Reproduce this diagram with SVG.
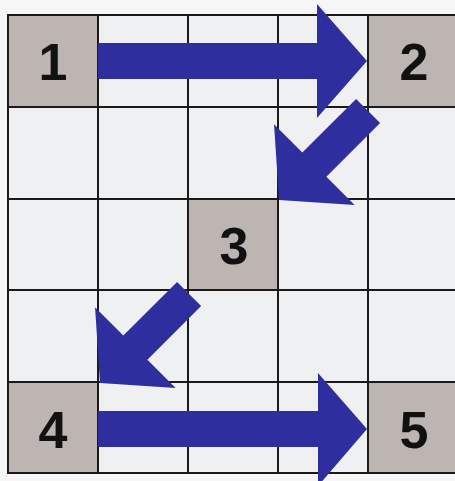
<svg xmlns="http://www.w3.org/2000/svg" width="455" height="481" viewBox="0 0 455 481">
  <style>
    .cell { fill: #eef0f2; }
    .hl { fill: #bcb5b1; }
    .grid { stroke: #1a1a1a; stroke-width: 2; fill: none; }
    .arrow { fill: #2e2e9e; }
    .lbl { font-family: "Liberation Sans", Arial, sans-serif; font-weight: bold; font-size: 52px; fill: #111; text-anchor: middle; }
  </style>
  <defs>
    <polygon id="diag" points="0,0 -50,-57 -50,-17 -126,-17 -126,17 -50,17 -50,57"/>
  </defs>
  <rect x="0" y="0" width="455" height="481" fill="#f6f6f6"/>
  <rect class="cell" x="8" y="15" width="460" height="458"/>
  <g id="node1"><rect class="hl" x="8" y="15" width="90" height="92"/><text class="lbl" x="53" y="80">1</text></g>
  <g id="node2"><rect class="hl" x="368" y="15" width="90" height="92"/><text class="lbl" x="414" y="80">2</text></g>
  <g id="node3"><rect class="hl" x="188" y="199" width="90" height="91"/><text class="lbl" x="234" y="264">3</text></g>
  <g id="node4"><rect class="hl" x="8" y="382" width="90" height="91"/><text class="lbl" x="53" y="448">4</text></g>
  <g id="node5"><rect class="hl" x="368" y="382" width="90" height="91"/><text class="lbl" x="414" y="448">5</text></g>
  <g id="gridlines" class="grid">
    <rect x="8" y="15" width="460" height="458"/>
    <path d="M98 15V473M188 15V473M278 15V473M368 15V473M8 107H468M8 199H468M8 290H468M8 382H468"/>
  </g>
  <g id="connectors" class="arrow">
    <polygon points="98,43 317,43 317,4 367,61 317,118 317,79 98,79"/>
    <use href="#diag" transform="translate(279,200) rotate(135)"/>
    <use href="#diag" transform="translate(100,383) rotate(135)"/>
    <polygon points="98,411 318,411 318,373 367,429 318,486 318,447 98,447"/>
  </g>
</svg>
